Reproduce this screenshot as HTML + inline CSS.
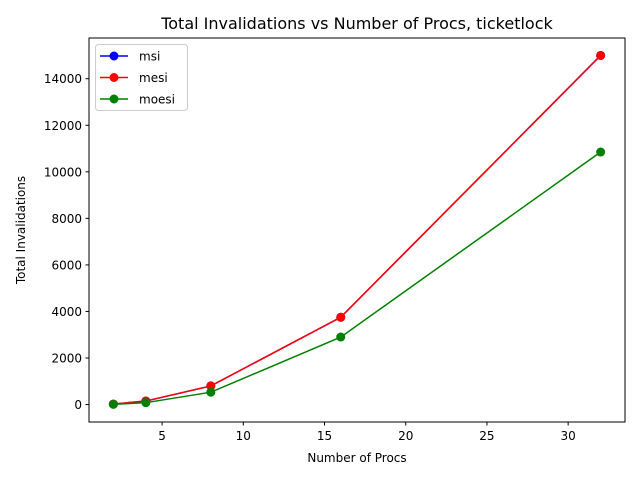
<!DOCTYPE html>
<html><head><meta charset="utf-8"><style>
body{margin:0;background:#fff;}
svg{display:block;font-family:"DejaVu Sans","Liberation Sans",sans-serif;}
</style></head><body>
<svg id="chart" width="640" height="480">
<rect width="640" height="480" fill="#fff"/>
<text x="357" y="29" text-anchor="middle" font-size="16">Total Invalidations vs Number of Procs, ticketlock</text>
<text x="357" y="462" text-anchor="middle" font-size="12">Number of Procs</text>
<text transform="translate(25,230) rotate(-90)" text-anchor="middle" font-size="12">Total Invalidations</text>
<g id="axes"></g>
<g id="series"></g>
<rect x="89" y="38" width="536" height="384" fill="none" stroke="#000" stroke-width="1"/>
<g>
<rect x="95.5" y="44.5" width="92" height="66" rx="3" fill="#fff" fill-opacity="0.8" stroke="#ccc"/>
<g id="legend"></g>
</g>
</svg>
<script>
const xValues=[2,4,8,16,32];
const msiValues=[20,150,800,3750,15000];
const mesiValues=[20,150,800,3750,15000];
const moesiValues=[10,80,530,2900,10850];
const seriesNames=["msi","mesi","moesi"];
const xTicks=[5,10,15,20,25,30];
const yTicks=[0,2000,4000,6000,8000,10000,12000,14000];
const NS="http://www.w3.org/2000/svg";
const L=89,R=625,T=38,B=422,X0=0.5,X1=33.5,Y0=-750,Y1=15750;
function sx(v){return L+(v-X0)/(X1-X0)*(R-L);}
function sy(v){return B-(v-Y0)/(Y1-Y0)*(B-T);}
function mk(t,a,p){const e=document.createElementNS(NS,t);for(const k in a)e.setAttribute(k,a[k]);p.appendChild(e);return e;}
const axes=document.getElementById('axes');
xTicks.forEach(v=>{
 const l=mk('line',{x1:sx(v),x2:sx(v),y1:B,y2:B+3.5,stroke:'#000'},axes);
 
 
 const t=mk('text',{x:sx(v),y:B+18,'text-anchor':'middle','font-size':12},axes);t.textContent=v;
 
 
});
yTicks.forEach(v=>{
 const l=mk('line',{x1:L-3.5,x2:L,y1:sy(v),y2:sy(v),stroke:'#000'},axes);
 
 
 const t=mk('text',{x:L-7,y:sy(v)+4.5,'text-anchor':'end','font-size':12},axes);t.textContent=v;
 
 
});
const data=[msiValues,mesiValues,moesiValues];
const colors=['#0000ff','#ff0000','#008000'];
const sg=document.getElementById('series');
data.forEach((vals,i)=>{
 const g=mk('g',{},sg);
 
 
 mk('polyline',{points:vals.map((v,j)=>sx(xValues[j])+','+sy(v)).join(' '),fill:'none',stroke:colors[i],'stroke-width':1.5},g);
 vals.forEach((v,j)=>{
  const c=mk('circle',{cx:sx(xValues[j]),cy:sy(v),r:4.5,fill:colors[i]},g);
  
  
 });
});
const lg=document.getElementById('legend');
seriesNames.forEach((n,i)=>{
 const y=56+i*21.5;
 const g=mk('g',{},lg);
 
 
 mk('line',{x1:100,x2:128,y1:y,y2:y,stroke:colors[i],'stroke-width':1.5},g);
 mk('circle',{cx:114,cy:y,r:4.5,fill:colors[i]},g);
 const t=mk('text',{x:139,y:y+4.5,'font-size':12},g);t.textContent=n;
});
</script>
</body></html>
